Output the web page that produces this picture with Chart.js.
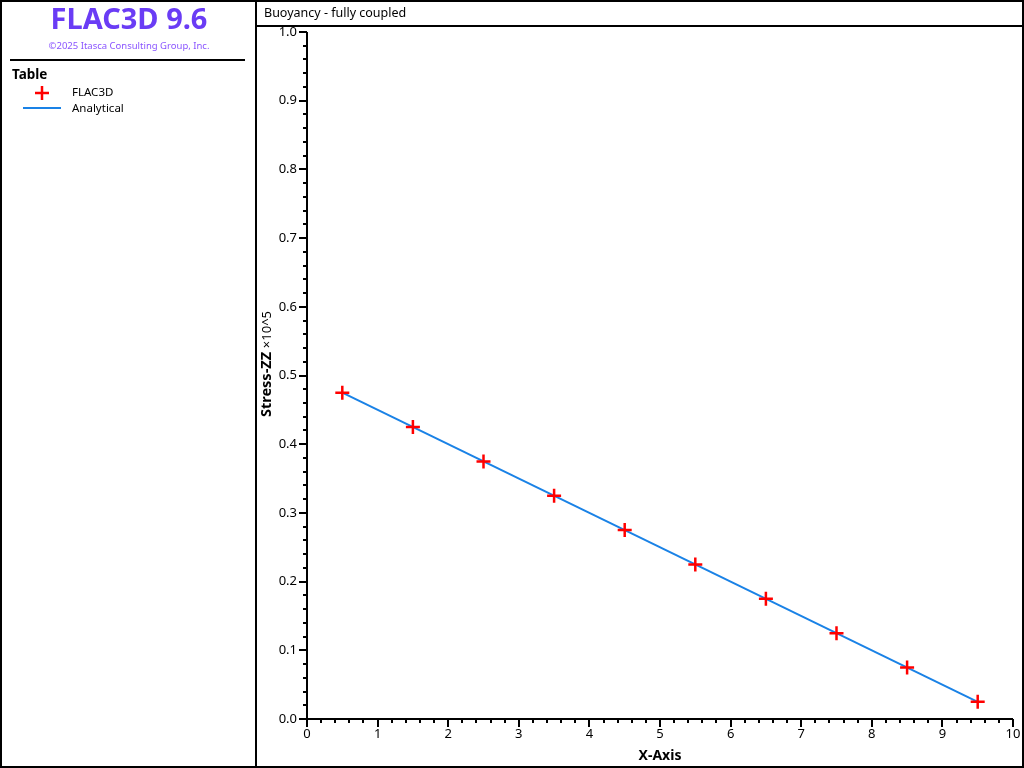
<!DOCTYPE html>
<html>
<head>
<meta charset="utf-8">
<script src="https://cdn.jsdelivr.net/npm/chart.js@4.4.1/dist/chart.umd.min.js"></script>
<style>
  html, body { margin: 0; padding: 0; background: #fff; }
  #wrap { width: 1024px; height: 768px; }
</style>
</head>
<body>
<div id="wrap"><canvas id="grafico" width="1024" height="768"></canvas></div>
<script>
// datos
const xFlac = [0.5, 1.5, 2.5, 3.5, 4.5, 5.5, 6.5, 7.5, 8.5, 9.5];
const yFlac = [0.475, 0.425, 0.375, 0.325, 0.275, 0.225, 0.175, 0.125, 0.075, 0.025];
const xAnalitico = [0.5, 9.5];
const yAnalitico = [0.475, 0.025];
const xTicks = [0, 1, 2, 3, 4, 5, 6, 7, 8, 9, 10];
const yTicks = [0.0, 0.1, 0.2, 0.3, 0.4, 0.5, 0.6, 0.7, 0.8, 0.9, 1.0];

const FONT = '"Noto Sans", "DejaVu Sans", sans-serif';

// marco, titulo, leyenda y ejes
const marcoPlugin = {
  id: 'marco',
  afterDraw(chart) {
    const ctx = chart.ctx;
    const sx = chart.scales.x, sy = chart.scales.y;
    ctx.save();
    ctx.strokeStyle = '#000';
    ctx.lineWidth = 2;
    ctx.strokeRect(1, 1, 255, 766);
    ctx.strokeRect(256, 1, 767, 766);
    ctx.beginPath();
    ctx.moveTo(256, 26); ctx.lineTo(1023, 26);
    ctx.moveTo(10, 60); ctx.lineTo(245, 60);
    ctx.stroke();

    // encabezado
    ctx.fillStyle = '#6a3cf5';
    ctx.textAlign = 'center';
    ctx.textBaseline = 'middle';
    ctx.font = 'bold 29px ' + FONT;
    ctx.fillText('FLAC3D 9.6', 129, 21);
    ctx.fillStyle = '#8a55ff';
    ctx.font = '9.5px ' + FONT;
    ctx.fillText('©2025 Itasca Consulting Group, Inc.', 129, 46);

    // leyenda
    ctx.fillStyle = '#000';
    ctx.textAlign = 'left';
    ctx.font = 'bold 13.5px ' + FONT;
    ctx.fillText('Table', 12, 75);
    ctx.font = '11.5px ' + FONT;
    ctx.fillText('FLAC3D', 72, 93);
    ctx.fillText('Analytical', 72, 109);
    ctx.strokeStyle = '#ff0000';
    ctx.lineWidth = 2.5;
    ctx.beginPath();
    ctx.moveTo(35, 93); ctx.lineTo(49, 93);
    ctx.moveTo(42, 86); ctx.lineTo(42, 100);
    ctx.stroke();
    ctx.strokeStyle = '#1a82e6';
    ctx.lineWidth = 2;
    ctx.beginPath();
    ctx.moveTo(23, 108); ctx.lineTo(61, 108);
    ctx.stroke();

    // titulo del grafico
    ctx.font = '12.5px ' + FONT;
    ctx.fillText('Buoyancy - fully coupled', 264, 13);

    // ejes
    const x0 = sx.getPixelForValue(0), x1 = sx.getPixelForValue(10);
    const y0 = sy.getPixelForValue(0), y1 = sy.getPixelForValue(1);
    ctx.strokeStyle = '#000';
    ctx.lineWidth = 2;
    ctx.beginPath();
    ctx.moveTo(x0, y1); ctx.lineTo(x0, y0); ctx.lineTo(x1, y0);
    ctx.stroke();

    ctx.beginPath();
    for (let i = 0; i < xTicks.length - 1; i++) {
      for (let k = 1; k < 5; k++) {
        const px = Math.round(sx.getPixelForValue(xTicks[i] + k * 0.2));
        ctx.moveTo(px, y0); ctx.lineTo(px, y0 + 4);
      }
    }
    for (let i = 0; i < yTicks.length - 1; i++) {
      for (let k = 1; k < 5; k++) {
        const py = Math.round(sy.getPixelForValue(yTicks[i] + k * 0.02));
        ctx.moveTo(x0, py); ctx.lineTo(x0 - 4, py);
      }
    }
    ctx.stroke();
    ctx.beginPath();
    xTicks.forEach(v => {
      const px = Math.round(sx.getPixelForValue(v));
      ctx.moveTo(px, y0); ctx.lineTo(px, y0 + 8);
    });
    yTicks.forEach(v => {
      const py = Math.round(sy.getPixelForValue(v));
      ctx.moveTo(x0, py); ctx.lineTo(x0 - 8, py);
    });
    ctx.stroke();

    ctx.font = '13px ' + FONT;
    ctx.textAlign = 'center';
    ctx.textBaseline = 'top';
    xTicks.forEach(v => ctx.fillText(String(v), sx.getPixelForValue(v), y0 + 9));
    ctx.textAlign = 'right';
    ctx.textBaseline = 'middle';
    yTicks.forEach(v => ctx.fillText(v.toFixed(1), x0 - 10, sy.getPixelForValue(v)));

    // titulos de ejes
    ctx.font = 'bold 14px ' + FONT;
    ctx.textAlign = 'center';
    ctx.textBaseline = 'middle';
    ctx.fillText('X-Axis', (x0 + x1) / 2, 756);

    ctx.translate(267, 364);
    ctx.rotate(-Math.PI / 2);
    ctx.textAlign = 'left';
    const t1 = 'Stress-ZZ ';
    const t2 = '×10^5';
    ctx.font = 'bold 14.5px ' + FONT;
    const w1 = ctx.measureText(t1).width;
    ctx.font = '13px ' + FONT;
    const w2 = ctx.measureText(t2).width;
    const inicio = -(w1 + w2) / 2;
    ctx.font = 'bold 14.5px ' + FONT;
    ctx.fillText(t1, inicio, 0);
    ctx.font = '13px ' + FONT;
    ctx.fillText(t2, inicio + w1, 0);
    ctx.restore();
  }
};

const ctx = document.getElementById('grafico').getContext('2d');
new Chart(ctx, {
  type: 'scatter',
  data: {
    datasets: [
      {
        label: 'Analytical',
        data: xAnalitico.map((x, i) => ({ x, y: yAnalitico[i] })),
        showLine: true,
        borderColor: '#1a82e6',
        borderWidth: 2,
        pointRadius: 0,
        fill: false,
        order: 2
      },
      {
        label: 'FLAC3D',
        data: xFlac.map((x, i) => ({ x, y: yFlac[i] })),
        showLine: false,
        pointStyle: 'cross',
        pointRadius: 7,
        borderColor: '#ff0000',
        backgroundColor: '#ff0000',
        borderWidth: 2.5,
        order: 1
      }
    ]
  },
  options: {
    responsive: false,
    animation: false,
    layout: { padding: { left: 307, right: 11, top: 32, bottom: 49 } },
    plugins: { legend: { display: false }, tooltip: { enabled: false } },
    scales: {
      x: { type: 'linear', min: 0, max: 10, display: false },
      y: { type: 'linear', min: 0, max: 1, display: false }
    }
  },
  plugins: [marcoPlugin]
});
</script>
</body>
</html>
